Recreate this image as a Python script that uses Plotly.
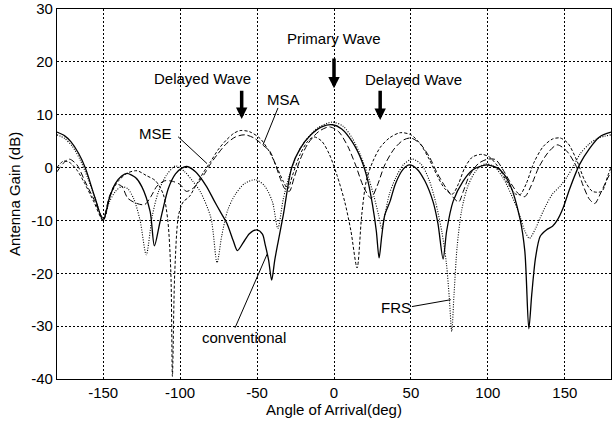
import plotly.graph_objects as go

# ---- data ----
conv_x = [-180, -175, -171, -166, -161.7, -155.2, -150, -146, -142, -138, -134.6, -129, -124.9, -119.5, -116.7, -113, -107.6, -103, -98.9, -95.6, -90, -83, -78, -74, -69.7, -65.4, -62.8, -59, -55, -50.2, -46.5, -44.8, -42.5, -40.5, -38.5, -36.2, -32.9, -27.5, -22, -15, -8, -1, 5, 12, 18, 22, 25, 27.5, 29.3, 31, 33, 36.4, 40, 45, 49, 54, 59, 64.3, 67.5, 70.9, 73.2, 77.4, 83.8, 90.3, 99.3, 107.8, 114.3, 120.8, 124, 126.6, 128.5, 131, 134, 138, 142, 145, 148.8, 153.3, 159.6, 166, 172.5, 180]
conv_y = [6.7, 6.0, 4.9, 2.7, 0.0, -5.8, -10.0, -5.8, -3.0, -1.6, -1.1, -1.9, -3.6, -8.3, -14.8, -10.2, -3.9, -1.2, -0.1, 0.2, -0.8, -3.5, -6.2, -8.3, -10.5, -13.9, -15.7, -14.2, -12.5, -11.8, -12.6, -14.5, -17.5, -21.3, -17.5, -13.9, -8.9, 0.0, 3.6, 6.2, 7.7, 8.1, 7.3, 4.8, 1.3, -2.5, -7.0, -12.0, -17.1, -13.0, -9.0, -6.4, -3.0, -0.3, 0.5, -0.3, -2.5, -6.4, -10.5, -17.3, -12.0, -6.4, -2.6, -0.4, 0.5, -0.4, -3.2, -9.6, -15.8, -30.5, -24.0, -17.0, -13.0, -11.8, -11.1, -10.0, -7.7, -3.9, 0.6, 3.6, 5.8, 6.7]

frs_x = [-180, -175, -170, -165, -160, -155, -150, -146, -142, -138, -134, -130, -126, -122, -118, -114, -109, -103, -97, -92, -87, -80, -76, -73, -69, -64, -58, -51, -45, -40, -36.5, -33, -29, -24, -18, -10, -1, 6, 12, 17, 22, 26, 29, 31, 33, 36, 40, 45, 51, 57, 62, 66, 70, 73, 75, 76.5, 78, 80, 83, 87, 92, 98, 104, 110, 115, 120, 124, 127, 131, 134, 138, 142, 147, 152, 156, 160, 166, 172, 180]
frs_y = [6.2, 5.5, 4.0, 1.5, -2.0, -6.0, -10.0, -6.5, -4.5, -3.6, -4.0, -6.0, -10.0, -16.5, -9.0, -4.5, -1.5, 0.3, -0.8, -2.5, -4.5, -9.5, -18.0, -13.0, -8.0, -5.0, -3.0, -2.3, -3.5, -6.5, -11.5, -6.0, -1.5, 2.5, 5.3, 7.6, 8.6, 7.8, 5.5, 2.5, -1.5, -5.5, -9.0, -11.5, -9.0, -5.0, -2.0, 0.5, 1.6, 0.5, -2.5, -6.5, -12.0, -18.0, -25.0, -31.0, -24.0, -15.0, -8.0, -3.5, -0.7, 0.7, 0.2, -2.0, -5.0, -8.5, -12.0, -13.4, -11.5, -9.5, -7.0, -5.0, -3.5, -1.5, 0.5, 2.6, 4.5, 5.6, 6.2]

msa_x = [-180, -176, -172, -167, -162, -156, -150, -145, -140, -134, -128, -122, -116, -111, -108, -106, -105, -103.5, -101, -98, -94, -90, -85, -80, -75, -70, -65, -61, -55, -48, -42, -37, -33, -30, -27, -22, -17, -13, -8, -3, 2, 7, 11, 15, 18, 21, 25, 30, 36, 43, 50, 56, 62, 67, 72, 77, 81, 85, 90, 96, 101, 107, 113, 118, 121, 125, 130, 136, 142, 147, 152, 158, 163, 168, 174, 178, 180]
msa_y = [0.0, 1.2, 1.0, -0.5, -3.0, -6.5, -10.0, -5.0, -2.5, -1.0, -0.6, -1.5, -2.5, -5.0, -10.0, -20.0, -39.5, -20.0, -9.0, -6.5, -5.5, -3.5, -1.0, 1.2, 3.5, 5.2, 6.5, 7.0, 6.8, 5.5, 3.0, 0.0, -2.6, -4.0, -1.5, 2.5, 5.0, 5.8, 5.0, 2.5, -1.5, -6.5, -12.0, -19.0, -9.0, -2.5, 1.0, 3.8, 5.6, 6.6, 6.2, 4.5, 1.5, -1.5, -4.0, -5.0, -3.0, 0.0, 2.0, 2.5, 2.0, 0.0, -3.0, -5.0, -5.1, -3.0, 1.0, 4.0, 5.4, 5.6, 4.6, 1.2, -2.5, -4.5, -4.5, -1.5, 0.0]

mse_x = [-180, -176, -172, -167, -162, -156, -150, -146, -142, -138, -134, -128, -123, -119, -115, -110, -105, -100, -96, -92, -88, -84, -80, -76, -70, -64, -58, -52, -46, -41.5, -38, -35, -32, -29, -26, -22, -17, -10, -3, 3, 9, 14, 19, 24, 28, 33, 39, 45, 50, 56, 62, 67, 72, 77, 81, 84, 88, 94, 100, 105, 110, 115, 120, 124, 128, 133, 139, 145, 151, 157, 162, 166, 169.5, 173, 177, 180]
mse_y = [-0.8, 0.8, 1.6, 0.5, -2.5, -6.0, -9.5, -5.5, -3.2, -3.5, -5.8, -6.8, -7.0, -5.5, -3.5, -2.5, -2.6, -3.2, -4.5, -4.0, -2.8, -1.1, 0.8, 2.4, 4.5, 5.8, 6.2, 5.6, 4.2, 3.0, 0.5, -2.0, -4.0, -4.5, -2.0, 1.5, 4.5, 6.8, 7.7, 6.8, 4.0, 0.5, -3.5, -5.8, -3.5, 0.5, 3.5, 5.2, 5.6, 4.5, 2.0, -1.0, -3.5, -5.5, -6.5, -4.5, -1.5, 0.8, 1.6, 1.5, -0.5, -3.0, -5.0, -5.5, -3.5, 0.0, 2.8, 4.3, 3.2, 0.5, -3.5, -6.0, -6.8, -5.0, -2.5, -0.8]

x_ticks = [-150, -100, -50, 0, 50, 100, 150]
y_ticks = [-40, -30, -20, -10, 0, 10, 20, 30]

FONT = "Liberation Sans, Arial, sans-serif"
FS = 15

fig = go.Figure()
common = dict(mode="lines", line_shape="spline", hoverinfo="skip", showlegend=False)
fig.add_trace(go.Scatter(x=mse_x, y=mse_y, line=dict(color="black", width=1, dash="6px,3px", smoothing=0.8), **common))
fig.add_trace(go.Scatter(x=msa_x, y=msa_y, line=dict(color="black", width=1, dash="3px,2px", smoothing=0.8), **common))
fig.add_trace(go.Scatter(x=frs_x, y=frs_y, line=dict(color="black", width=1.1, dash="1px,1.5px", smoothing=0.8), **common))
fig.add_trace(go.Scatter(x=conv_x, y=conv_y, line=dict(color="black", width=1.3, smoothing=0.8), **common))

# text labels
labels = [
    ("Primary Wave", 0.1, 24.4),
    ("Delayed Wave", -85.7, 16.9),
    ("Delayed Wave", 51.4, 16.7),
    ("MSA", -33.1, 12.8),
    ("MSE", -116.2, 6.4),
    ("conventional", -58.4, -32.1),
    ("FRS", 40.2, -26.5),
]
for t, x, y in labels:
    fig.add_annotation(x=x, y=y, text=t, showarrow=False, xanchor="center", yanchor="middle",
                       font=dict(family=FONT, size=FS, color="black"))

# thick arrows (direction markers)
arrows = [(0, 20.9, 15.0), (-60, 14.8, 9.2), (30, 14.8, 9.0)]
for x, y0, y1 in arrows:
    fig.add_annotation(x=x, y=y1, ax=x, ay=y0, axref="x", ayref="y", text="",
                       showarrow=True, arrowhead=2, arrowwidth=3.5, arrowsize=0.65, arrowcolor="black")

# leader lines
leaders = [(-36.4, 11.28, -46.1, 4.32), (-101.3, 5.83, -82.5, 0.75),
           (-64.3, -30.3, -43.5, -16.4), (50.6, -26.3, 75.9, -25.0)]
for x0, y0, x1, y1 in leaders:
    fig.add_shape(type="line", x0=x0, y0=y0, x1=x1, y1=y1, xref="x", yref="y",
                  line=dict(color="black", width=1))

axis_common = dict(showline=True, linecolor="black", linewidth=1.3, mirror=True,
                   showgrid=True, gridcolor="black", gridwidth=1, griddash="2px,2px",
                   zeroline=False, ticks="", ticklabeloverflow="allow",
                   tickfont=dict(family=FONT, size=FS, color="black"))
fig.update_xaxes(range=[-180, 180], tickvals=x_ticks, ticktext=[str(v) for v in x_ticks],
                 automargin="bottom",
                 title=dict(text="Angle of Arrival(deg)", font=dict(family=FONT, size=FS, color="black"), standoff=4),
                 **axis_common)
fig.update_yaxes(range=[-40, 30], tickvals=y_ticks, ticktext=[str(v) for v in y_ticks],
                 automargin="left",
                 title=dict(text="Antenna Gain (dB)", font=dict(family=FONT, size=FS, color="black"), standoff=6),
                 **axis_common)
fig.update_layout(width=616, height=425, margin=dict(l=57, r=5, t=9, b=46),
                  plot_bgcolor="white", paper_bgcolor="white")
fig.write_html("out.html")
